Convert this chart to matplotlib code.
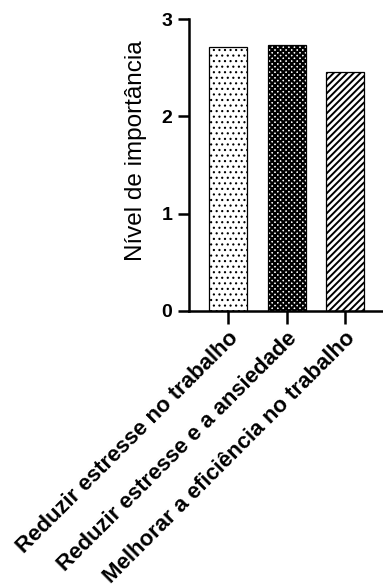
import numpy as np
import matplotlib
matplotlib.use("Agg")
import matplotlib.pyplot as plt

plt.rcParams['font.family'] = ['Liberation Sans', 'DejaVu Sans']
plt.rcParams['hatch.linewidth'] = 0.8

categorias = ['Reduzir estresse no trabalho',
              'Reduzir estresse e a ansiedade',
              'Melhorar a eficiência no trabalho']
valores = [2.71, 2.73, 2.46]
padroes = ['...', 'xxxxxx', '/////']
espessura_hachura = [0.8, 1.6, 1.4]

fig = plt.figure(figsize=(3.83, 5.87), dpi=100)
ax = fig.add_axes([0.4935, 0.4702, 0.5065, 0.4974])

x = np.arange(len(categorias))
bars = ax.bar(x, valores, width=0.65, color='white', edgecolor='black',
              linewidth=0.9)
for b, h, lw in zip(bars, padroes, espessura_hachura):
    b.set_hatch(h)
    if hasattr(b, 'set_hatch_linewidth'):
        b.set_hatch_linewidth(lw)

ax.set_xlim(-0.67, 2.65)
ax.set_ylim(0, 3)
ax.set_yticks([0, 1, 2, 3])
ax.set_yticklabels(['0', '1', '2', '3'], fontsize=14, fontweight='bold')
ax.set_xticks(x)
ax.set_xticklabels(categorias, rotation=45, ha='right', rotation_mode='anchor',
                   fontsize=16, fontweight='bold')

for s in ['top', 'right']:
    ax.spines[s].set_visible(False)
for s in ['left', 'bottom']:
    ax.spines[s].set_linewidth(1.8)
ax.tick_params(axis='y', direction='out', length=8, width=1.8, pad=4)
ax.tick_params(axis='x', direction='out', length=9, width=1.8, pad=3)

ax.set_ylabel('Nível de importância', fontsize=17.5)
ax.yaxis.set_label_coords(-0.216, 0.55)

fig.savefig('out.png', dpi=100)
